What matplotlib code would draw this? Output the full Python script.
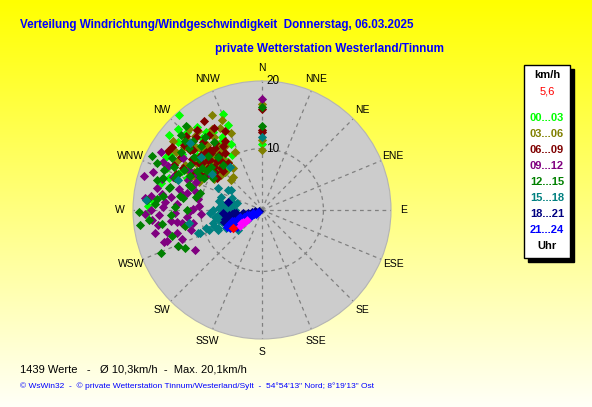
import numpy as np
import matplotlib.pyplot as plt
from matplotlib.patches import Rectangle

# wind direction (deg, from N clockwise) and speed (km/h) per 3h block
dir_00 = [319, 338, 316, 309, 311, 321, 294, 272, 268, 305, 308, 322, 338, 275, 313,
          326, 300, 317, 329, 303, 311, 296, 318, 331, 306, 314, 324, 299, 309, 320, 0,
          302, 315, 327, 310, 296, 320, 305, 312, 331, 298, 318, 307, 323, 289, 314,
          301, 328, 316, 293, 309, 335, 304, 319, 285, 312]
spd_00 = [20.5, 16.8, 17.6, 17.7, 15.1, 8.9, 16.9, 18.5, 18.9, 15.9, 13.4, 17.2, 14.9, 18.0, 12.5,
          11.8, 14.2, 10.6, 13.0, 11.0, 16.3, 12.8, 14.0, 10.2, 9.8, 19.0, 15.6, 17.8, 9.5, 12.0, 10.7,
          11.5, 9.2, 12.6, 13.8, 14.5, 15.2, 10.8, 16.8, 13.5, 11.0, 18.2, 12.1, 10.5, 16.0, 14.6,
          17.4, 15.0, 8.6, 13.2, 19.4, 11.8, 15.7, 12.9, 17.1, 10.1]

dir_03 = [332, 333, 338, 319, 314, 316, 322, 310, 327, 305, 318, 300, 325, 312, 335,
          308, 320, 296, 315, 328, 303, 313, 326, 310, 290, 317, 321, 307, 0, 0, 0,
          303, 311, 324, 298, 316, 330, 309, 320, 294, 313, 327, 306, 318, 301, 322,
          311, 336, 299, 315, 308, 325, 304]
spd_03 = [17.5, 14.9, 13.5, 7.2, 7.1, 8.7, 12.5, 15.8, 11.0, 13.2, 16.2, 14.5, 9.6, 11.8, 10.4,
          18.3, 10.0, 12.2, 14.0, 15.5, 9.4, 17.0, 13.0, 10.9, 14.8, 12.0, 16.5, 11.5, 17.2, 11.4, 9.7,
          10.8, 12.8, 11.6, 13.6, 9.8, 12.0, 16.4, 13.9, 11.2, 15.0, 14.2, 9.1, 17.8, 15.9, 10.3,
          8.8, 16.0, 12.6, 11.0, 13.4, 8.3, 16.9]

dir_06 = [335, 325, 319, 316, 305, 302, 307, 330, 312, 322, 298, 327, 309, 318, 313,
          300, 324, 310, 317, 304, 329, 315, 295, 321, 308, 311, 0, 0, 0,
          306, 314, 323, 299, 310, 319, 327, 303, 316, 312, 297, 320, 308, 332, 301,
          314, 325, 306, 318, 293]
spd_06 = [14.2, 13.3, 13.0, 13.1, 17.8, 18.1, 12.8, 15.5, 10.5, 11.4, 14.5, 17.2, 9.8, 16.0, 12.0,
          11.5, 9.4, 15.2, 10.8, 13.7, 12.2, 8.9, 13.0, 16.8, 11.2, 14.8, 16.4, 13.0, 12.7,
          14.0, 11.8, 12.7, 12.4, 16.5, 14.6, 11.0, 15.8, 9.6, 13.4, 16.0, 10.2, 12.3, 12.8, 10.9,
          17.3, 15.0, 9.0, 12.5, 15.2]

dir_09 = [300, 286, 276, 268, 265, 262, 252, 239, 255, 265, 272, 282, 278, 269, 259,
          252, 299, 305, 290, 274, 283, 262, 295, 247, 280, 270, 288, 257, 293, 266, 0,
          287, 275, 261, 296, 281, 268, 254, 292, 277, 263, 285, 271, 258, 298, 279,
          267, 250, 289, 274, 260, 303, 284]
spd_09 = [19.0, 19.9, 19.1, 19.0, 17.9, 17.1, 16.2, 12.8, 14.4, 12.2, 16.2, 17.5, 14.9, 11.8, 11.5,
          16.7, 13.5, 10.5, 15.5, 13.8, 12.5, 14.0, 16.8, 14.8, 10.6, 18.0, 12.0, 15.8, 11.6, 10.0, 18.0,
          17.0, 15.8, 13.2, 17.9, 13.3, 14.2, 12.0, 13.0, 18.2, 15.0, 11.1, 11.2, 17.8, 12.0, 16.5,
          16.8, 13.8, 18.8, 10.3, 13.0, 15.4, 14.0]

dir_12 = [269, 263, 296, 247, 247, 244, 262, 315, 325, 305, 290, 310, 280, 300, 320,
          285, 272, 295, 312, 258, 303, 318, 276, 288, 308, 298, 265, 283, 0, 0,
          293, 306, 278, 315, 286, 299, 270, 322, 281, 309, 254, 296, 313, 267, 302,
          289, 319, 275, 305, 292, 284, 297, 310, 273, 301, 288, 316, 279, 294, 307]
spd_12 = [20.1, 20.0, 19.9, 17.8, 14.9, 14.0, 16.4, 15.9, 13.6, 12.0, 15.0, 10.8, 13.5, 17.0, 11.2,
          10.5, 14.2, 13.0, 16.9, 12.8, 9.5, 18.5, 17.2, 12.2, 14.0, 11.5, 18.4, 15.6, 16.8, 13.7,
          14.8, 16.2, 16.3, 12.5, 17.8, 10.8, 12.2, 15.0, 11.0, 13.3, 15.2, 16.0, 18.0, 14.8, 13.8,
          12.6, 9.8, 18.8, 11.0, 17.2, 15.5, 14.2, 15.6, 17.5, 12.4, 16.9, 14.4, 13.0, 18.7, 10.2]

dir_15 = [230, 248, 250, 252, 267, 261, 255, 303, 284, 274, 260, 275, 313, 323, 249, 250,
          265, 270, 278, 258, 262, 255, 287, 280, 268, 263, 296, 272, 256, 290, 276, 264, 0,
          266, 259, 271, 253, 280, 262, 246, 274, 257, 268, 251, 285, 263, 277, 292, 255,
          269, 243, 282, 300, 306, 311]
spd_15 = [5.1, 7.8, 10.8, 9.6, 8.4, 7.6, 6.1, 6.0, 4.9, 6.9, 12.0, 19.0, 16.1, 8.7, 9.3, 11.1,
          5.5, 8.0, 6.5, 7.0, 6.2, 8.2, 7.0, 5.8, 6.4, 5.8, 8.0, 7.0, 7.0, 14.5, 6.5, 5.8, 11.9,
          6.8, 6.0, 5.3, 6.8, 6.0, 7.8, 7.9, 5.6, 7.2, 4.6, 8.2, 4.2, 5.5, 5.0, 5.2, 6.6,
          4.4, 6.5, 7.2, 6.4, 10.0, 13.2]

dir_18 = [283, 266, 253, 260, 261, 260, 250, 248, 245, 257, 263, 255, 258, 251, 262,
          254, 249, 256, 259, 252, 256, 262, 250, 258, 264, 253, 247, 260, 255, 251]
spd_18 = [5.7, 6.4, 6.5, 4.8, 3.1, 1.7, 0.5, 4.4, 5.8, 5.3, 4.2, 3.6, 2.4, 5.0, 5.4,
          2.9, 3.9, 4.6, 1.2, 6.0, 6.2, 5.0, 4.9, 3.3, 4.6, 2.0, 5.2, 5.9, 1.0, 3.4]

dir_21 = [240, 237, 236, 251, 245, 248, 242, 250, 244, 239, 246, 253, 241, 247, 243,
          238, 249, 245, 252, 240, 244, 248, 236, 242,
          243, 246, 239, 250, 241, 244, 237, 247, 242, 249, 245, 240]
spd_21 = [2.3, 3.9, 5.0, 1.6, 4.5, 3.2, 5.6, 5.2, 2.8, 4.6, 6.0, 3.8, 1.2, 2.0, 3.5,
          5.3, 4.2, 5.8, 2.6, 0.8, 6.3, 4.9, 4.4, 1.9,
          5.9, 3.0, 2.7, 4.0, 4.8, 1.5, 4.8, 5.5, 3.1, 2.3, 3.7, 6.0]

# last hour (magenta) and current value (red)
dir_last = [236, 238, 235, 237, 239]
spd_last = [3.4, 4.0, 4.4, 3.0, 3.7]
dir_now = [239]
spd_now = [5.6]

groups = ['00...03', '03...06', '06...09', '09...12', '12...15', '15...18', '18...21', '21...24']
colors = ['#00ff00', '#808000', '#800000', '#800080', '#008000', '#008080', '#000080', '#0000ff']
all_dirs = [dir_00, dir_03, dir_06, dir_09, dir_12, dir_15, dir_18, dir_21]
all_spds = [spd_00, spd_03, spd_06, spd_09, spd_12, spd_15, spd_18, spd_21]

compass = ['N', 'NNE', 'NE', 'ENE', 'E', 'ESE', 'SE', 'SSE',
           'S', 'SSW', 'SW', 'WSW', 'W', 'WNW', 'NW', 'NNW']

W, H = 592, 407
fig = plt.figure(figsize=(W / 100, H / 100), dpi=100)

# yellow -> white background
bg = fig.add_axes([0, 0, 1, 1])
grad = np.linspace(0, 1, 256).reshape(-1, 1)
img = np.ones((256, 1, 3))
img[:, 0, 2] = 0.97 * grad[:, 0]
bg.imshow(img, aspect='auto', extent=[0, 1, 0, 1])
bg.axis('off')

cx, cy, R = 262, 210, 129
ax = fig.add_axes([(cx - R) / W, (H - cy - R) / H, 2 * R / W, 2 * R / H], projection='polar')
ax.set_theta_zero_location('N')
ax.set_theta_direction(-1)
ax.set_facecolor('#cccccc')
ax.set_ylim(0, 21)
ax.set_thetagrids(np.arange(0, 360, 22.5), labels=[])
ax.set_rgrids([10], labels=[])
ax.grid(color='#808080', linestyle=(0, (3, 3)), linewidth=0.9)
ax.spines['polar'].set_color('#b4b4b4')
ax.tick_params(length=0)

for i, name in enumerate(compass):
    ax.text(np.deg2rad(i * 22.5), 23.1, name, ha='center', va='center',
            fontsize=7.5, family='Liberation Sans', clip_on=False)
ax.annotate('10', xy=(0, 10), xytext=(3, 0), textcoords='offset points',
            ha='left', va='center', fontsize=8.5, family='Liberation Sans')
ax.annotate('20', xy=(0, 21), xytext=(3, 0), textcoords='offset points',
            ha='left', va='center', fontsize=8.5, family='Liberation Sans', annotation_clip=False)

for d, s, c in zip(all_dirs, all_spds, colors):
    ax.scatter(np.deg2rad(d), s, marker='D', s=22, color=c, linewidths=0, zorder=3)
ax.scatter(np.deg2rad(dir_last), spd_last, marker='D', s=20, color='#ff00ff', linewidths=0, zorder=4)
ax.scatter(np.deg2rad(dir_now), spd_now, marker='D', s=24, color='#ff0000', linewidths=0, zorder=5)

# titles
fig.text(20 / W, 1 - 25 / H, 'Verteilung Windrichtung/Windgeschwindigkeit  Donnerstag, 06.03.2025',
         color='#0000ff', fontsize=8.4, fontweight='bold', family='Liberation Sans', va='center')
fig.text(215 / W, 1 - 49 / H, 'private Wetterstation Westerland/Tinnum',
         color='#0000ff', fontsize=8.5, fontweight='bold', family='Liberation Sans', va='center')

# legend box with shadow
bx0, by0, bx1, by1 = 524, 65, 570, 258
fig.add_artist(Rectangle(((bx0 + 4) / W, (H - by1 - 4) / H), (bx1 - bx0) / W, (by1 - by0) / H,
                         transform=fig.transFigure, facecolor='black', edgecolor='black'))
fig.add_artist(Rectangle((bx0 / W, (H - by1) / H), (bx1 - bx0) / W, (by1 - by0) / H,
                         transform=fig.transFigure, facecolor='white', edgecolor='black', linewidth=1))
lx = 547 / W
fig.text(lx, 1 - 75 / H, 'km/h', ha='center', va='center', fontsize=8, fontweight='bold', family='Liberation Sans')
fig.text(lx, 1 - 92 / H, '5,6', ha='center', va='center', fontsize=8, color='#ff0000', family='Liberation Sans')
for i, (g, c) in enumerate(zip(groups, colors)):
    fig.text(lx, 1 - (118 + i * 16) / H, g, ha='center', va='center', fontsize=8,
             fontweight='bold', color=c, family='Liberation Sans')
fig.text(lx, 1 - 246 / H, 'Uhr', ha='center', va='center', fontsize=8, fontweight='bold', family='Liberation Sans')

# footer
fig.text(20 / W, 1 - 369 / H, '1439 Werte   -   \u00d8 10,3km/h  -  Max. 20,1km/h',
         fontsize=8, va='center', family='Liberation Sans')
fig.text(20 / W, 1 - 386 / H,
         '\u00a9 WsWin32  -  \u00a9 private Wetterstation Tinnum/Westerland/Sylt  -  54\u00b054\'13" Nord; 8\u00b019\'13" Ost',
         fontsize=6, color='#0000ff', va='center', family='Liberation Sans')

fig.savefig('out.png', dpi=100)
